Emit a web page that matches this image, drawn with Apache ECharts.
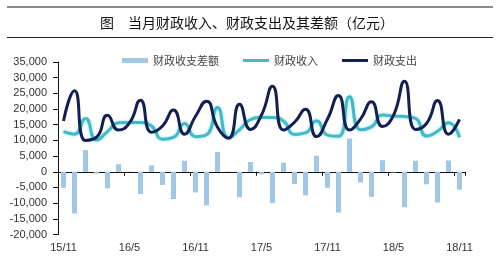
<!DOCTYPE html>
<html><head><meta charset="utf-8">
<script src="https://cdn.jsdelivr.net/npm/echarts@6/dist/echarts.min.js"></script>
<style>html,body{margin:0;padding:0;background:#fff}#c{width:500px;height:267px}</style>
</head><body><div id="c"></div>
<script>
const categories = ['15/11','15/12','16/1','16/2','16/3','16/4','16/5','16/6','16/7','16/8','16/9','16/10',
  '16/11','16/12','17/1','17/2','17/3','17/4','17/5','17/6','17/7','17/8','17/9','17/10',
  '17/11','17/12','18/1','18/2','18/3','18/4','18/5','18/6','18/7','18/8','18/9','18/10','18/11'];
const balance = [-5100,-13300,6900,-600,-5300,2400,100,-7100,2000,-4200,-8700,3500,
  -6600,-10700,6300,100,-8100,3100,-800,-10000,2900,-3900,-7500,5100,
  -5100,-13000,10600,-3400,-8000,3700,-200,-11300,3500,-4000,-9800,3600,-5700];
const revenue = [12800,12000,17000,10100,12800,15600,15700,15700,14600,10400,11000,15400,
  11200,11800,20500,10800,13400,16600,17300,17300,16200,11900,12400,16300,
  11700,11300,23900,13400,14300,18100,17800,17600,17000,11400,12900,15600,11000];
const expenditure = [16200,25800,10000,11000,18000,13300,15600,22800,12600,14600,19700,12000,
  17700,22500,14200,10700,21500,13500,18100,27300,13300,15800,19900,11200,
  16800,24300,13300,16800,22300,14400,18000,28900,13500,15400,22700,12000,16700];
const seriesNames = ['财政收支差额','财政收入','财政支出'];
const titleText = '图　当月财政收入、财政支出及其差额（亿元）';

const chart = echarts.init(document.getElementById('c'), null, {renderer:'canvas'});
const txt = '#333';
chart.setOption({
  animation: false,
  backgroundColor: '#fff',
  title: { text: titleText, left: 95, top: 11,
    textStyle: { fontSize: 14, fontWeight: 'normal', color: '#111', fontFamily: 'Noto Sans CJK SC' } },
  graphic: [
    { type: 'line', shape: { x1: 7, y1: 7, x2: 493, y2: 7 }, style: { stroke: '#8a8a8a', lineWidth: 2 } },
    { type: 'line', shape: { x1: 7, y1: 37.5, x2: 493, y2: 37.5 }, style: { stroke: '#222', lineWidth: 1 } }
  ],
  legend: {
    left: 117, top: 50, itemWidth: 26, itemHeight: 5, itemGap: 24,
    textStyle: { fontSize: 11, color: '#444', fontFamily: 'Noto Sans CJK SC' },
    data: [
      { name: seriesNames[0], icon: 'path://M0,0H26V5H0Z' },
      { name: seriesNames[1], icon: 'path://M0,0H26V3H0Z' },
      { name: seriesNames[2], icon: 'path://M0,0H26V3H0Z' }
    ]
  },
  grid: { left: 58, right: 35, top: 62, bottom: 32.5, containLabel: false },
  xAxis: [
    { type: 'category', data: categories, boundaryGap: true, position: 'bottom',
      axisLine: { show: true, onZero: true, lineStyle: { color: '#111', width: 1 } },
      axisTick: { show: true, interval: 5, length: 4, lineStyle: { color: '#111' } },
      axisLabel: { show: false }, splitLine: { show: false } },
    { type: 'category', data: categories, boundaryGap: true, position: 'bottom',
      axisLine: { show: false, onZero: false }, axisTick: { show: false },
      axisLabel: { interval: 5, margin: 8, fontSize: 11, color: txt, fontFamily: 'Liberation Sans' },
      splitLine: { show: false } }
  ],
  yAxis: { type: 'value', min: -20000, max: 35000, interval: 5000,
    axisLine: { show: true, lineStyle: { color: '#111', width: 1 } },
    axisTick: { show: true, length: 5, lineStyle: { color: '#111' } },
    splitLine: { show: false },
    axisLabel: { margin: 11, fontSize: 11, color: txt, fontFamily: 'Liberation Sans',
      formatter: v => v.toLocaleString('en-US') } },
  series: [
    { name: seriesNames[0], type: 'bar', xAxisIndex: 0, data: balance, barWidth: 5,
      itemStyle: { color: '#A2C6E6' } },
    { name: seriesNames[1], type: 'line', xAxisIndex: 0, data: revenue, smooth: 0.55,
      symbol: 'none', lineStyle: { color: '#42BAC6', width: 3, shadowColor: 'rgba(120,220,230,0.8)', shadowBlur: 3 },
      itemStyle: { color: '#42BAC6' } },
    { name: seriesNames[2], type: 'line', xAxisIndex: 0, data: expenditure, smooth: 0.55,
      symbol: 'none', lineStyle: { color: '#111F52', width: 3 },
      itemStyle: { color: '#111F52' } }
  ]
});
</script></body></html>
